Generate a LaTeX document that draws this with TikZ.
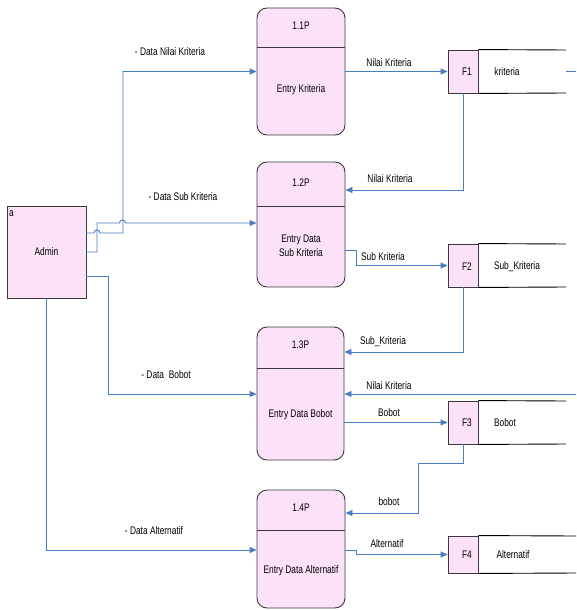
\documentclass[tikz,border=0pt]{standalone}
\usepackage{fontspec}
\setmainfont[FakeStretch=0.76]{Liberation Sans}
\usetikzlibrary{arrows.meta,calc}
\definecolor{pinkfill}{HTML}{FBE2F8}
\definecolor{flowblue}{HTML}{4A7CC4}
\definecolor{edge}{HTML}{3A3A3A}
\tikzset{
  proc/.style={draw=edge, fill=pinkfill, rounded corners=10pt, line width=0.9pt, inner sep=0pt},
  fbox/.style={draw=edge, fill=pinkfill, line width=0.9pt, minimum width=30pt, inner sep=0pt},
  actor/.style={draw=edge, fill=pinkfill, line width=0.9pt, minimum width=79pt, minimum height=92pt, inner sep=0pt},
  flow/.style={draw=flowblue, line width=0.9pt, -{Triangle[length=7pt,width=6pt]}},
  plainflow/.style={draw=flowblue, line width=0.9pt},
  lbl/.style={font=\fontsize{11}{13.5}\selectfont, text=black, inner sep=0pt, align=center},
  storeline/.style={draw=black, line width=0.9pt}
}
\begin{document}
\begin{tikzpicture}[x=1pt,y=-1pt]
\useasboundingbox (0,0) rectangle (576,610);

% Admin
\node[actor] (admin) at (46.5,252) {};
\node[lbl, anchor=north west] (alab) at (9,210) {a};
\node[lbl] (atxt) at (46.5,252) {Admin};

% processes
\node[proc, minimum width=88pt, minimum height=127pt] (p1) at (301,71.5) {};
\draw[edge, line width=0.9pt] (p1.west |- 0,47) -- (p1.east |- 0,47);
\node[lbl] (p1id) at (301,26) {1.1P};
\node[lbl] (p1tx) at (301,90) {Entry Kriteria};

\node[proc, minimum width=88pt, minimum height=125pt] (p2) at (301,224.5) {};
\draw[edge, line width=0.9pt] (p2.west |- 0,206) -- (p2.east |- 0,206);
\node[lbl] (p2id) at (301,183) {1.2P};
\node[lbl] (p2tx) at (301,246) {Entry Data\\Sub Kriteria};

\node[proc, minimum width=87pt, minimum height=133pt] (p3) at (300.5,393.5) {};
\draw[edge, line width=0.9pt] (p3.west |- 0,368) -- (p3.east |- 0,368);
\node[lbl] (p3id) at (300.5,345) {1.3P};
\node[lbl] (p3tx) at (300.5,415) {Entry Data Bobot};

\node[proc, minimum width=88pt, minimum height=118pt] (p4) at (301,549) {};
\draw[edge, line width=0.9pt] (p4.west |- 0,530) -- (p4.east |- 0,530);
\node[lbl] (p4id) at (301,508) {1.4P};
\node[lbl] (p4tx) at (301,571) {Entry Data Alternatif};

% data stores
\node[fbox, minimum height=43pt] (f1) at (463,71.5) {};
\node[lbl] (f1id) at (467,72) {F1};
\draw[storeline] (f1.north east) -- (566,50);
\draw[storeline] (f1.south east) -- (566,93);
\node[lbl] (f1tx) at (507,72) {kriteria};

\node[fbox, minimum height=43pt] (f2) at (463,265.5) {};
\node[lbl] (f2id) at (467,267) {F2};
\draw[storeline] (f2.north east) -- (566,244);
\draw[storeline] (f2.south east) -- (566,287);
\node[lbl] (f2tx) at (517,267) {Sub\_Kriteria};

\node[fbox, minimum height=43pt] (f3) at (463,422.5) {};
\node[lbl] (f3id) at (467,422.5) {F3};
\draw[storeline] (f3.north east) -- (566,401);
\draw[storeline] (f3.south east) -- (566,444);
\node[lbl] (f3tx) at (505,422.5) {Bobot};

\node[fbox, minimum height=37pt] (f4) at (463,554.5) {};
\node[lbl] (f4id) at (467,555) {F4};
\draw[storeline] (f4.north east) -- (576,536);
\draw[storeline] (f4.south east) -- (576,573);
\node[lbl] (f4tx) at (513,555) {Alternatif};

% free ends on the right edge
\coordinate (e1s) at (566,71.5);
\coordinate (e1) at (576,71.5);
\coordinate (e2) at (576,394);

% flows from Admin
\draw[flow] (admin.east |- 0,233) -- (94,233) .. controls (94,229) and (100,229) .. (100,233)
  -- (123,233) -- (123,71.5) -- (p1.west);
\draw[flow] (admin.east) -- (97,252) -- (97,223) -- (119.5,223)
  .. controls (119.5,219) and (125.5,219) .. (125.5,223) -- (p2.west |- 0,223);
\draw[flow] (admin.east |- 0,276) -- (108,276) -- (108,394) -- (p3.west |- 0,394);
\draw[flow] (admin.south) -- (46.5,550) -- (p4.west |- 0,550);

\node[lbl] (l1) at (170,52) {- Data Nilai Kriteria};
\node[lbl] (l2) at (183,197) {- Data Sub Kriteria};
\node[lbl] (l3) at (166,375) {- Data\ \ Bobot};
\node[lbl] (l4) at (154,531) {- Data Alternatif};

% right-hand flows
\draw[flow] (p1.east) -- (f1.west);
\node[lbl] (r1) at (389,63) {Nilai Kriteria};
\draw[plainflow] (e1s) -- (e1);

\draw[flow] (f1.south) -- (463,190) -- (p2.east |- 0,190);
\node[lbl] (r2) at (390,179) {Nilai Kriteria};

\draw[flow] (p2.east |- 0,250) -- (356,250) -- (356,265.5) -- (f2.west);
\node[lbl] (r3) at (383,257) {Sub Kriteria};

\draw[flow] (f2.south) -- (463,352) -- (p3.east |- 0,352);
\node[lbl] (r4) at (383,342) {Sub\_Kriteria};

\draw[flow] (e2) -- (p3.east |- e2);
\node[lbl] (r5) at (389,386) {Nilai Kriteria};

\draw[flow] (p3.east |- f3.west) -- (f3.west);
\node[lbl] (r6) at (389,413) {Bobot};

\draw[flow] (f3.south) -- (463,463) -- (418,463) -- (418,513) -- (p4.east |- 0,513);
\node[lbl] (r7) at (389,502) {bobot};

\draw[flow] (p4.east |- 0,550) -- (356,550) -- (356,554.5) -- (f4.west);
\node[lbl] (r8) at (387,544) {Alternatif};
\end{tikzpicture}
\end{document}
